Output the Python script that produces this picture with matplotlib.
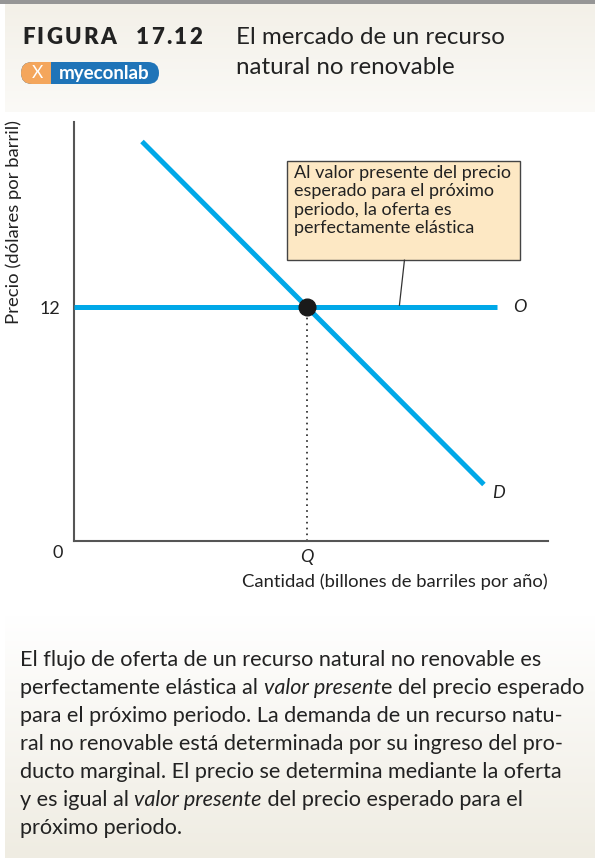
import numpy as np
import matplotlib
matplotlib.use("Agg")
import matplotlib.pyplot as plt
from matplotlib.patches import Rectangle, FancyBboxPatch

# ---- data ----
supply_q = [0.0, 21.8]
supply_p = [12.0, 12.0]
demand_q = [3.5, 21.1]
demand_p = [20.5, 2.9]
eq_q, eq_p = 12.0, 12.0
xlim_max, ylim_max = 24.4, 21.5
ytick_vals = [12]
ytick_labels = ["12"]
xtick_vals = [12]
xtick_labels = ["Q"]

W, H = 595, 858
DPI = 100
plt.rcParams['font.family'] = ['Lato', 'DejaVu Sans']
fig = plt.figure(figsize=(W / DPI, H / DPI), dpi=DPI)

# ---- background ----
bg = np.ones((H, W, 3))
top = np.array([243, 240, 232]) / 255
mid = np.array([251, 250, 247]) / 255
for r in range(4, 112):
    t = (r - 4) / 108
    bg[r, :, :] = top * (1 - t) + mid * t
for r in range(615, H):
    t = (r - 615) / (H - 615)
    bg[r, :, :] = np.array([1, 1, 1]) * (1 - t) + np.array([239, 236, 226]) / 255 * t
bg[0:4, :, :] = np.array([150, 150, 150]) / 255
bg[4:, 0:5, :] = 1.0
axbg = fig.add_axes([0, 0, 1, 1])
axbg.imshow(bg, extent=[0, W, H, 0], aspect='auto', interpolation='nearest')
axbg.set_xlim(0, W)
axbg.set_ylim(H, 0)
axbg.axis('off')

fig.canvas.draw()
renderer = fig.canvas.get_renderer()

def tracked(x, y, s, spacing, **kw):
    for ch in s:
        t = axbg.text(x, y, ch, ha='left', va='center', **kw)
        w = t.get_window_extent(renderer=renderer).width
        x += w + spacing

# ---- header ----
tracked(22, 37, "FIGURA", 2.2, fontsize=16, fontweight='heavy', color='#222222')
tracked(136, 37, "17.12", 2.2, fontsize=16, fontweight='heavy', color='#222222')
axbg.text(236, 37, "El mercado de un recurso", fontsize=17.4, color='#222222',
          va='center', ha='left')
axbg.text(236, 68, "natural no renovable", fontsize=17.4, color='#222222',
          va='center', ha='left')

# logo
axbg.add_patch(FancyBboxPatch((21, 62), 138, 22, boxstyle="round,pad=0,rounding_size=11",
                              fc='#1f74b8', ec='none'))
axbg.add_patch(FancyBboxPatch((21, 62), 60, 22, boxstyle="round,pad=0,rounding_size=11",
                              fc='#f4a65c', ec='none'))
axbg.add_patch(Rectangle((51, 62), 40, 22, fc='#1f74b8', ec='none'))
axbg.text(37, 73.5, "X", color='white', fontsize=12.5, ha='center', va='center',
          fontweight='normal', zorder=6)
axbg.text(104, 73, "myeconlab", color='white', fontsize=13.5, ha='center',
          va='center', fontweight='bold', zorder=6)

# ---- chart ----
ax = fig.add_axes([74 / W, (H - 541) / H, (548 - 74) / W, (541 - 122) / H])
ax.set_facecolor('none')
ax.set_xlim(0, xlim_max)
ax.set_ylim(0, ylim_max)
for s in ['top', 'right']:
    ax.spines[s].set_visible(False)
for s in ['left', 'bottom']:
    ax.spines[s].set_color('#555555')
    ax.spines[s].set_linewidth(1.5)

blue = '#00a8e8'
ax.plot(supply_q, supply_p, color=blue, lw=3.6, solid_capstyle='butt', zorder=3)
ax.plot(demand_q, demand_p, color=blue, lw=3.6, solid_capstyle='butt', zorder=3)
ax.plot([eq_q, eq_q], [0, eq_p], color='#222222', lw=1.2, ls=(0, (1, 2.5)), zorder=2)
ax.plot([eq_q], [eq_p], 'o', color='#1a1a1a', ms=12, zorder=5)

ax.set_yticks(ytick_vals)
ax.set_yticklabels(ytick_labels, fontsize=13, color='#222222')
ax.set_xticks(xtick_vals)
ax.set_xticklabels(xtick_labels, fontsize=13, color='#222222', style='italic')
ax.tick_params(length=0, pad=6)
ax.tick_params(axis='y', pad=10)

ax.text(22.6, 12, "O", fontsize=13, style='italic', color='#222222', va='center', ha='left')
ax.text(21.5, 2.45, "D", fontsize=13, style='italic', color='#222222', va='center', ha='left')

axbg.text(58, 553, "0", fontsize=13, color='#222222', ha='center', va='center')
axbg.text(14, 222, "Precio (dólares por barril)", fontsize=13.3, color='#222222',
          rotation=90, ha='center', va='center')
axbg.text(548, 582, "Cantidad (billones de barriles por año)", fontsize=13.3,
          color='#222222', ha='right', va='center')

# annotation box
bx0, bx1 = (287 - 74) / 19.4, (519 - 74) / 19.4
by0, by1 = (541 - 260) / 19.5, (541 - 161) / 19.5
ax.add_patch(Rectangle((bx0, by0), bx1 - bx0, by1 - by0, fc='#fde8c4', ec='#444444',
                       lw=1.0, zorder=4))
ax.plot([(404 - 74) / 19.4, (399 - 74) / 19.4], [by0, eq_p + 0.1], color='#333333',
        lw=0.9, zorder=4)
ax.text((294 - 74) / 19.4, (541 - 165) / 19.5,
        "Al valor presente del precio\nesperado para el próximo\nperiodo, la oferta es\nperfectamente elástica",
        fontsize=13, color='#222222', va='top', ha='left', linespacing=1.17, zorder=5)

# ---- caption ----
cap_lines = [
    [("El flujo de oferta de un recurso natural no renovable es", 'normal')],
    [("perfectamente elástica al ", 'normal'), ("valor present", 'italic'),
     ("e del precio esperado", 'normal')],
    [("para el próximo periodo. La demanda de un recurso natu-", 'normal')],
    [("ral no renovable está determinada por su ingreso del pro-", 'normal')],
    [("ducto marginal. El precio se determina mediante la oferta", 'normal')],
    [("y es igual al ", 'normal'), ("valor presente", 'italic'),
     (" del precio esperado para el", 'normal')],
    [("próximo periodo.", 'normal')],
]
y0 = 660
for i, segs in enumerate(cap_lines):
    y = y0 + i * 28
    x = 20
    for txt, st in segs:
        t = axbg.text(x, y, txt, fontsize=15.6, style=st, color='#222222',
                      ha='left', va='center')
        bb = t.get_window_extent(renderer=renderer)
        x += bb.width

fig.savefig("out.png", dpi=DPI)
